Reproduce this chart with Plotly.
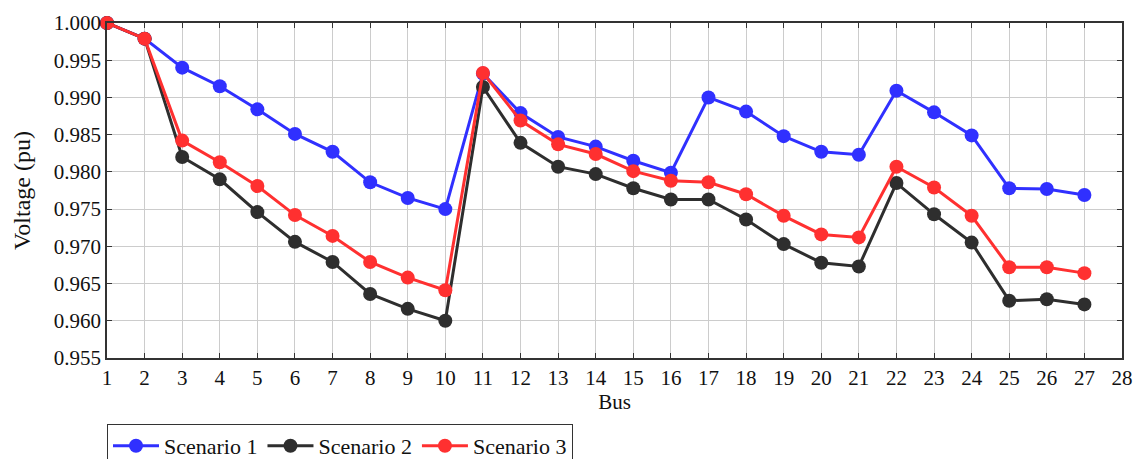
import plotly.graph_objects as go

# Bus voltage profiles for three operating scenarios
buses = list(range(1, 28))

scenario_1 = [1.0000, 0.9979, 0.9940, 0.9915, 0.9884, 0.9851, 0.9827, 0.9786, 0.9765, 0.9750,
              0.9932, 0.9879, 0.9847, 0.9834, 0.9815, 0.9799, 0.9900, 0.9881, 0.9848, 0.9827,
              0.9823, 0.9909, 0.9880, 0.9849, 0.9778, 0.9777, 0.9769]
scenario_2 = [1.0000, 0.9979, 0.9820, 0.9790, 0.9746, 0.9706, 0.9679, 0.9636, 0.9616, 0.9600,
              0.9914, 0.9839, 0.9807, 0.9797, 0.9778, 0.9763, 0.9763, 0.9736, 0.9703, 0.9678,
              0.9673, 0.9785, 0.9743, 0.9705, 0.9627, 0.9629, 0.9622]
scenario_3 = [1.0000, 0.9979, 0.9842, 0.9813, 0.9781, 0.9742, 0.9714, 0.9679, 0.9658, 0.9641,
              0.9933, 0.9869, 0.9837, 0.9824, 0.9801, 0.9788, 0.9786, 0.9770, 0.9741, 0.9716,
              0.9712, 0.9807, 0.9779, 0.9741, 0.9672, 0.9672, 0.9664]

series = [
    ("Scenario 1", scenario_1, "#3030ff"),
    ("Scenario 2", scenario_2, "#2e2e2e"),
    ("Scenario 3", scenario_3, "#ff3030"),
]

x_ticks = list(range(1, 29))
y_ticks = [0.955, 0.960, 0.965, 0.970, 0.975, 0.980, 0.985, 0.990, 0.995, 1.000]

font_family = "Liberation Serif, DejaVu Serif, serif"

fig = go.Figure()
for name, values, color in series:
    fig.add_trace(go.Scatter(
        x=buses, y=values, name=name, mode="lines+markers",
        line=dict(color=color, width=3),
        marker=dict(color=color, size=14, line=dict(width=0)),
        cliponaxis=False,
    ))

axis_common = dict(
    showgrid=True, gridcolor="#cccccc", gridwidth=1,
    showline=True, linecolor="#333333", linewidth=1.5, mirror="ticks",
    ticks="inside", ticklen=5, tickcolor="#333333", tickwidth=1,
    tickfont=dict(family=font_family, size=21, color="#111111"),
    zeroline=False,
)

fig.update_layout(
    width=1136, height=459,
    margin=dict(l=107, r=14, t=23, b=101, autoexpand=False),
    plot_bgcolor="white", paper_bgcolor="white",
    font=dict(family=font_family, size=21, color="#111111"),
    xaxis=dict(
        range=[1, 28], tickvals=x_ticks,
        title=dict(text="Bus", font=dict(size=21), standoff=4),
        **axis_common,
    ),
    yaxis=dict(
        range=[0.955, 1.0], tickvals=y_ticks, tickformat=".3f",
        title=dict(text="Voltage (pu)", font=dict(size=24), standoff=16),
        **axis_common,
    ),
    legend=dict(
        orientation="h", x=0, xanchor="left", y=-0.197, yanchor="top",
        bordercolor="#333333", borderwidth=1, bgcolor="white",
        font=dict(family=font_family, size=22, color="#111111"),
        itemwidth=46, tracegroupgap=0,
    ),
    showlegend=True,
)

fig.write_html("out.html")
